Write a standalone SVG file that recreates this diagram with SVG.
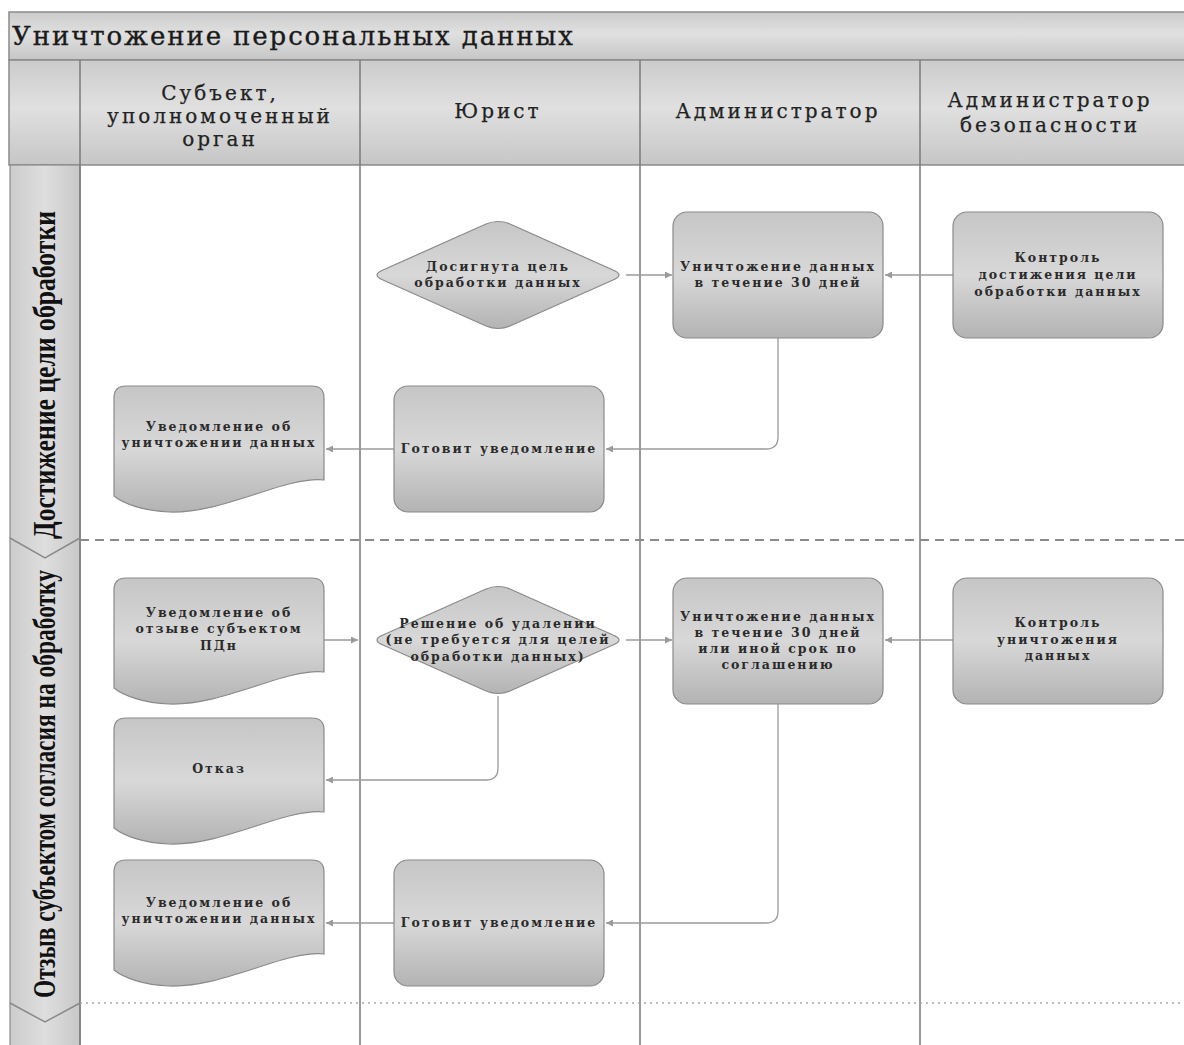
<svg xmlns="http://www.w3.org/2000/svg" xmlns:xlink="http://www.w3.org/1999/xlink" width="1184" height="1045" viewBox="0 0 1184 1045">
<style>
.t{font-family:"DejaVu Serif","Liberation Serif",serif;font-weight:bold;font-size:12.5px;fill:#2a2a2a;text-anchor:middle;letter-spacing:2px}
.h{font-family:"DejaVu Serif","Liberation Serif",serif;font-size:20px;fill:#222;stroke:#222;stroke-width:0.25;text-anchor:middle;letter-spacing:3px}
.lane{font-family:"Liberation Serif",serif;font-weight:bold;font-size:31px;fill:#111;text-anchor:middle}
.shape{fill:url(#g);stroke:#8a8a8a;stroke-width:1.2}
.c{fill:none;stroke:#9a9a9a;stroke-width:1.3;marker-end:url(#ah)}
.col{stroke:#7a7a7a;stroke-width:1.5;fill:none}
</style>
<defs>
<linearGradient id="g" x1="0" y1="0" x2="0" y2="1">
<stop offset="0" stop-color="#c6c6c6"/>
<stop offset="0.5" stop-color="#d8d8d8"/>
<stop offset="1" stop-color="#b3b3b3"/>
</linearGradient>
<linearGradient id="hg" x1="0" y1="0" x2="0" y2="1">
<stop offset="0" stop-color="#cbcbcb"/>
<stop offset="0.45" stop-color="#e0e0e0"/>
<stop offset="1" stop-color="#c6c6c6"/>
</linearGradient>
<linearGradient id="lg" x1="0" y1="0" x2="1" y2="0">
<stop offset="0" stop-color="#cccccc"/>
<stop offset="0.5" stop-color="#dedede"/>
<stop offset="1" stop-color="#c8c8c8"/>
</linearGradient>
<marker id="ah" viewBox="0 0 10 10" refX="10" refY="5" markerWidth="9" markerHeight="7" markerUnits="userSpaceOnUse" orient="auto">
<path d="M0,0 L10,5 L0,10 Z" fill="#9a9a9a"/>
</marker>
<path id="doc" d="M12,0 H198 Q210,0 210,12 V94 C170,90 110,128 55,126 C30,125 10,118 0,110 V12 Q0,0 12,0 Z"/>
<path id="dia" d="M-12,-51 Q0,-56 12,-51 L115,-5 Q127,0 115,5 L12,51 Q0,56 -12,51 L-115,5 Q-127,0 -115,-5 Z"/>
</defs>
<rect width="1184" height="1045" fill="#fff"/>

<g id="frame">
<rect x="9" y="12" width="1185" height="48" fill="url(#hg)" stroke="#8a8a8a" stroke-width="1.5"/>
<text x="12" y="45" style="font-family:'DejaVu Serif','Liberation Serif',serif;font-size:26px;fill:#1a1a1a;stroke:#1a1a1a;stroke-width:0.35;letter-spacing:1.9px">Уничтожение персональных данных</text>
<rect x="9" y="60" width="1185" height="105" fill="url(#hg)" stroke="#8a8a8a" stroke-width="1.5"/>
<rect x="10" y="165" width="70" height="890" fill="url(#lg)" stroke="#8a8a8a" stroke-width="1.2"/>
<line class="col" x1="80" y1="60" x2="80" y2="1045"/>
<line class="col" x1="360" y1="60" x2="360" y2="1045"/>
<line class="col" x1="640" y1="60" x2="640" y2="1045"/>
<line class="col" x1="920" y1="60" x2="920" y2="1045"/>
<line x1="80" y1="540" x2="1184" y2="540" stroke="#8a8a8a" stroke-width="2" stroke-dasharray="9,6"/>
<line x1="80" y1="1003" x2="1184" y2="1003" stroke="#a8a8a8" stroke-width="1.5" stroke-dasharray="2,4"/>
<polyline points="10,538 45,558 80,538" fill="none" stroke="#8a8a8a" stroke-width="1.5"/>
<polyline points="10,1003 45,1022 80,1003" fill="none" stroke="#8a8a8a" stroke-width="1.5"/>
<text class="h"><tspan x="220" y="100">Субъект,</tspan><tspan x="220" y="123">уполномоченный</tspan><tspan x="220" y="146">орган</tspan></text>
<text class="h" x="498" y="118">Юрист</text>
<text class="h" x="778" y="118">Администратор</text>
<text class="h"><tspan x="1050" y="107">Администратор</tspan><tspan x="1050" y="132">безопасности</tspan></text>
<text class="lane" transform="translate(55,375) rotate(-90)" textLength="328" lengthAdjust="spacingAndGlyphs">Достижение цели обработки</text>
<text class="lane" transform="translate(55,784) rotate(-90)" textLength="428" lengthAdjust="spacingAndGlyphs">Отзыв субъектом согласия на обработку</text>
</g>

<g id="connectors">
<path class="c" d="M626,275 H672"/>
<path class="c" d="M953,275 H885"/>
<path class="c" d="M778,338 V437 Q778,449 766,449 H606"/>
<path class="c" d="M394,449 H326"/>
<path class="c" d="M324,640 H358"/>
<path class="c" d="M626,640 H672"/>
<path class="c" d="M953,640 H885"/>
<path class="c" d="M498,696 V768 Q498,780 486,780 H326"/>
<path class="c" d="M778,704 V911 Q778,923 766,923 H606"/>
<path class="c" d="M394,923 H326"/>
</g>

<g id="n1">
<use class="shape" href="#dia" transform="translate(498,275)"/>
<text class="t"><tspan x="498" y="271">Досигнута цель</tspan><tspan x="498" y="287">обработки данных</tspan></text>
</g>
<g id="n2">
<rect class="shape" x="673" y="212" width="210" height="126" rx="14"/>
<text class="t"><tspan x="778" y="271">Уничтожение данных</tspan><tspan x="778" y="287">в течение 30 дней</tspan></text>
</g>
<g id="n3">
<rect class="shape" x="953" y="212" width="210" height="126" rx="14"/>
<text class="t"><tspan x="1058" y="262">Контроль</tspan><tspan x="1058" y="279">достижения цели</tspan><tspan x="1058" y="296">обработки данных</tspan></text>
</g>
<g id="n4">
<rect class="shape" x="394" y="386" width="210" height="126" rx="14"/>
<text class="t" x="499" y="453">Готовит уведомление</text>
</g>
<g id="n5">
<use class="shape" href="#doc" transform="translate(114,386)"/>
<text class="t"><tspan x="219" y="431">Уведомление об</tspan><tspan x="219" y="447">уничтожении данных</tspan></text>
</g>

<g id="n6">
<use class="shape" href="#doc" transform="translate(114,578)"/>
<text class="t"><tspan x="219" y="617">Уведомление об</tspan><tspan x="219" y="633">отзыве субъектом</tspan><tspan x="219" y="650">ПДн</tspan></text>
</g>
<g id="n7">
<use class="shape" href="#dia" transform="translate(498,640)"/>
<text class="t"><tspan x="498" y="628">Решение об удалении</tspan><tspan x="498" y="644">(не требуется для целей</tspan><tspan x="498" y="661">обработки данных)</tspan></text>
</g>
<g id="n8">
<rect class="shape" x="673" y="578" width="210" height="126" rx="14"/>
<text class="t"><tspan x="778" y="621">Уничтожение данных</tspan><tspan x="778" y="637">в течение 30 дней</tspan><tspan x="778" y="653">или иной срок по</tspan><tspan x="778" y="669">соглашению</tspan></text>
</g>
<g id="n9">
<rect class="shape" x="953" y="578" width="210" height="126" rx="14"/>
<text class="t"><tspan x="1058" y="627">Контроль</tspan><tspan x="1058" y="644">уничтожения</tspan><tspan x="1058" y="660">данных</tspan></text>
</g>
<g id="n10">
<use class="shape" href="#doc" transform="translate(114,718)"/>
<text class="t" x="219" y="773">Отказ</text>
</g>
<g id="n11">
<use class="shape" href="#doc" transform="translate(114,860)"/>
<text class="t"><tspan x="219" y="907">Уведомление об</tspan><tspan x="219" y="923">уничтожении данных</tspan></text>
</g>
<g id="n12">
<rect class="shape" x="394" y="860" width="210" height="126" rx="14"/>
<text class="t" x="499" y="927">Готовит уведомление</text>
</g>
</svg>
